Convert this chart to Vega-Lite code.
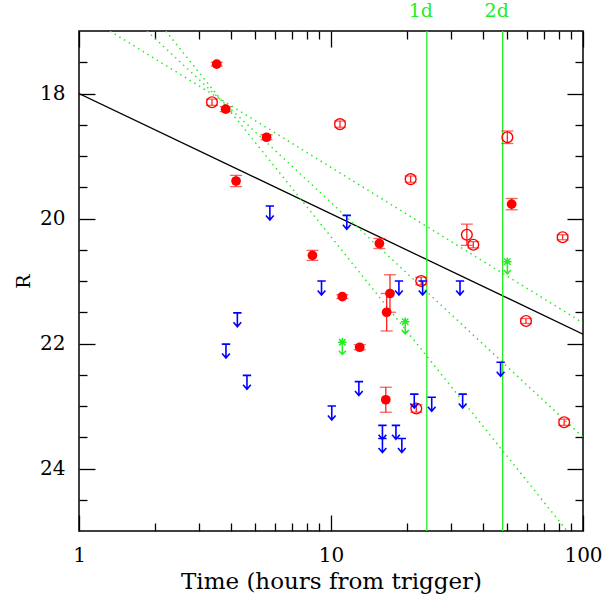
{
  "$schema": "https://vega.github.io/schema/vega-lite/v6.json",
  "width": 504,
  "height": 500,
  "autosize": "none",
  "padding": {"left": 79, "top": 31, "right": 25, "bottom": 70},
  "background": "white",
  "config": {
    "view": {"stroke": "black", "strokeWidth": 1.5},
    "axis": {
      "grid": false,
      "domain": false,
      "tickColor": "black",
      "tickWidth": 1.3,
      "labelFont": "DejaVu Serif",
      "labelFontSize": 20,
      "labelColor": "black",
      "titleFont": "DejaVu Serif",
      "titleFontWeight": "normal",
      "titleColor": "black"
    }
  },
  "datasets": {
    "powerlaw": [{"t": 1, "R": 18.0}, {"t": 100, "R": 21.85}],
    "dotted": [
      {"id": "a", "t": 1.327, "R": 17.0}, {"id": "a", "t": 100, "R": 21.67},
      {"id": "b", "t": 1.86, "R": 17.0}, {"id": "b", "t": 100, "R": 23.5},
      {"id": "c", "t": 2.21, "R": 17.0}, {"id": "c", "t": 86.5, "R": 25.0}
    ],
    "days": [{"t": 24, "label": "1d", "R": 16.68}, {"t": 48, "label": "2d", "R": 16.68}],
    "det": [
      {"t": 3.52, "R": 17.53, "lo": 17.50, "hi": 17.56},
      {"t": 3.82, "R": 18.25, "lo": 18.21, "hi": 18.29},
      {"t": 5.55, "R": 18.70, "lo": 18.66, "hi": 18.74},
      {"t": 4.20, "R": 19.40, "lo": 19.31, "hi": 19.49},
      {"t": 8.44, "R": 20.59, "lo": 20.51, "hi": 20.67},
      {"t": 15.56, "R": 20.40, "lo": 20.32, "hi": 20.48},
      {"t": 11.09, "R": 21.25, "lo": 21.22, "hi": 21.28},
      {"t": 17.14, "R": 21.20, "lo": 20.90, "hi": 21.50},
      {"t": 16.63, "R": 21.50, "lo": 21.20, "hi": 21.80},
      {"t": 13.0, "R": 22.06, "lo": 22.02, "hi": 22.10},
      {"t": 16.5, "R": 22.90, "lo": 22.70, "hi": 23.10},
      {"t": 52.1, "R": 19.77, "lo": 19.68, "hi": 19.86}
    ],
    "open": [
      {"t": 3.37, "R": 18.14, "lo": 18.09, "hi": 18.19},
      {"t": 10.86, "R": 18.49, "lo": 18.44, "hi": 18.54},
      {"t": 20.7, "R": 19.37, "lo": 19.32, "hi": 19.42},
      {"t": 50.1, "R": 18.70, "lo": 18.60, "hi": 18.80},
      {"t": 83.0, "R": 20.30, "lo": 20.26, "hi": 20.34},
      {"t": 34.6, "R": 20.26, "lo": 20.09, "hi": 20.43},
      {"t": 36.7, "R": 20.42, "lo": 20.37, "hi": 20.47},
      {"t": 22.8, "R": 21.0, "lo": 20.94, "hi": 21.06},
      {"t": 21.8, "R": 23.04, "lo": 22.98, "hi": 23.10},
      {"t": 59.4, "R": 21.64, "lo": 21.60, "hi": 21.68},
      {"t": 84.2, "R": 23.26, "lo": 23.21, "hi": 23.31}
    ],
    "ul": [
      {"t": 3.83, "R": 22.01}, {"t": 4.25, "R": 21.51}, {"t": 4.64, "R": 22.51},
      {"t": 5.72, "R": 19.80}, {"t": 9.17, "R": 21.0}, {"t": 10.07, "R": 23.0},
      {"t": 11.55, "R": 19.95}, {"t": 12.9, "R": 22.61}, {"t": 16.0, "R": 23.31},
      {"t": 16.0, "R": 23.52}, {"t": 18.1, "R": 23.31}, {"t": 19.1, "R": 23.52},
      {"t": 18.6, "R": 21.0}, {"t": 21.4, "R": 22.81}, {"t": 23.1, "R": 21.0},
      {"t": 25.1, "R": 22.86}, {"t": 32.5, "R": 21.0}, {"t": 33.3, "R": 22.81},
      {"t": 47.1, "R": 22.30}
    ],
    "gul": [{"t": 11.09, "R": 21.98}, {"t": 19.7, "R": 21.65}, {"t": 50.1, "R": 20.69}]
  },
  "resolve": {"axis": {"x": "independent", "y": "independent"}},
  "layer": [
    {
      "data": {"name": "powerlaw"},
      "mark": {"type": "line", "color": "black", "strokeWidth": 1.3, "clip": true},
      "encoding": {
        "x": {"field": "t", "type": "quantitative",
          "scale": {"type": "log", "domain": [1, 100], "nice": false},
          "axis": {"orient": "bottom", "values": [1, 10, 100], "format": "d", "tickSize": -16, "labelPadding": 30,
            "title": "Time (hours from trigger)", "titleFontSize": 23, "titlePadding": 5, "labelFlush": false}},
        "y": {"field": "R", "type": "quantitative",
          "scale": {"domain": [17, 25], "reverse": true, "nice": false, "zero": false},
          "axis": {"orient": "left", "values": [18, 20, 22, 24], "format": "d", "tickSize": -16, "labelPadding": 30,
            "title": "R", "titleFontSize": 19, "titlePadding": 6, "labelFlush": false}}
      }
    },
    {
      "data": {"name": "dotted"},
      "mark": {"type": "line", "color": "#22ee22", "strokeWidth": 1.5, "strokeDash": [1.5, 4], "clip": true},
      "encoding": {
        "detail": {"field": "id"},
        "x": {"field": "t", "type": "quantitative",
          "axis": {"orient": "bottom", "values": [2, 3, 4, 5, 6, 7, 8, 9, 20, 30, 40, 50, 60, 70, 80, 90], "tickSize": -8, "labels": false, "title": null}},
        "y": {"field": "R", "type": "quantitative",
          "axis": {"orient": "left", "values": [17.5, 18.5, 19, 19.5, 20.5, 21, 21.5, 22.5, 23, 23.5, 24.5], "tickSize": -8, "labels": false, "title": null}}
      }
    },
    {
      "data": {"name": "days"},
      "mark": {"type": "rule", "color": "#22ee22", "strokeWidth": 1.3},
      "encoding": {
        "x": {"field": "t", "type": "quantitative",
          "axis": {"orient": "top", "values": [1, 10, 100], "tickSize": -16, "labels": false, "title": null}},
        "y": {"datum": 17, "type": "quantitative",
          "axis": {"orient": "right", "values": [18, 20, 22, 24], "tickSize": -16, "labels": false, "title": null}},
        "y2": {"datum": 25}
      }
    },
    {
      "data": {"name": "days"},
      "mark": {"type": "text", "color": "#22ee22", "font": "DejaVu Serif", "fontSize": 19, "dx": -6, "align": "center", "baseline": "middle", "clip": false},
      "encoding": {
        "x": {"field": "t", "type": "quantitative", "axis": null},
        "y": {"field": "R", "type": "quantitative", "axis": null},
        "text": {"field": "label"}
      }
    },
    {
      "data": {"name": "det"},
      "mark": {"type": "rule", "color": "#ff2020", "strokeWidth": 1.3},
      "encoding": {
        "x": {"field": "t", "type": "quantitative",
          "axis": {"orient": "top", "values": [2, 3, 4, 5, 6, 7, 8, 9, 20, 30, 40, 50, 60, 70, 80, 90], "tickSize": -8, "labels": false, "title": null}},
        "y": {"field": "lo", "type": "quantitative",
          "axis": {"orient": "right", "values": [17.5, 18.5, 19, 19.5, 20.5, 21, 21.5, 22.5, 23, 23.5, 24.5], "tickSize": -8, "labels": false, "title": null}},
        "y2": {"field": "hi"}
      }
    },
    {
      "data": {"name": "det"},
      "mark": {"type": "tick", "orient": "horizontal", "color": "#ff2020", "size": 12, "thickness": 1.3},
      "encoding": {
        "x": {"field": "t", "type": "quantitative", "axis": null},
        "y": {"field": "lo", "type": "quantitative", "axis": null}
      }
    },
    {
      "data": {"name": "det"},
      "mark": {"type": "tick", "orient": "horizontal", "color": "#ff2020", "size": 12, "thickness": 1.3},
      "encoding": {
        "x": {"field": "t", "type": "quantitative", "axis": null},
        "y": {"field": "hi", "type": "quantitative", "axis": null}
      }
    },
    {
      "data": {"name": "det"},
      "mark": {"type": "point", "shape": "circle", "filled": true, "color": "#ff0000", "size": 95, "opacity": 1},
      "encoding": {
        "x": {"field": "t", "type": "quantitative", "axis": null},
        "y": {"field": "R", "type": "quantitative", "axis": null}
      }
    },
    {
      "data": {"name": "open"},
      "mark": {"type": "rule", "color": "#ff2020", "strokeWidth": 1.3},
      "encoding": {
        "x": {"field": "t", "type": "quantitative", "axis": null},
        "y": {"field": "lo", "type": "quantitative", "axis": null},
        "y2": {"field": "hi"}
      }
    },
    {
      "data": {"name": "open"},
      "mark": {"type": "tick", "orient": "horizontal", "color": "#ff2020", "size": 12, "thickness": 1.3},
      "encoding": {
        "x": {"field": "t", "type": "quantitative", "axis": null},
        "y": {"field": "lo", "type": "quantitative", "axis": null}
      }
    },
    {
      "data": {"name": "open"},
      "mark": {"type": "tick", "orient": "horizontal", "color": "#ff2020", "size": 12, "thickness": 1.3},
      "encoding": {
        "x": {"field": "t", "type": "quantitative", "axis": null},
        "y": {"field": "hi", "type": "quantitative", "axis": null}
      }
    },
    {
      "data": {"name": "open"},
      "mark": {"type": "point", "shape": "circle", "filled": false, "color": "#ff0000", "size": 115, "strokeWidth": 1.4, "opacity": 1},
      "encoding": {
        "x": {"field": "t", "type": "quantitative", "axis": null},
        "y": {"field": "R", "type": "quantitative", "axis": null}
      }
    },
    {
      "data": {"name": "ul"},
      "mark": {"type": "point", "shape": "M-0.6,0L0.6,0M0,0L0,2M-0.55,1.35L0,2L0.55,1.35", "filled": false, "color": "#0000ff", "size": 196, "strokeWidth": 1.6, "opacity": 1},
      "encoding": {
        "x": {"field": "t", "type": "quantitative", "axis": null},
        "y": {"field": "R", "type": "quantitative", "axis": null}
      }
    },
    {
      "data": {"name": "gul"},
      "mark": {"type": "point", "shape": "M-0.6,0L0.6,0M0,-0.6L0,0.6M-0.45,-0.45L0.45,0.45M-0.45,0.45L0.45,-0.45M0,0L0,1.75M-0.5,1.2L0,1.75L0.5,1.2", "filled": false, "color": "#22ee22", "size": 196, "strokeWidth": 1.5, "opacity": 1},
      "encoding": {
        "x": {"field": "t", "type": "quantitative", "axis": null},
        "y": {"field": "R", "type": "quantitative", "axis": null}
      }
    }
  ]
}
